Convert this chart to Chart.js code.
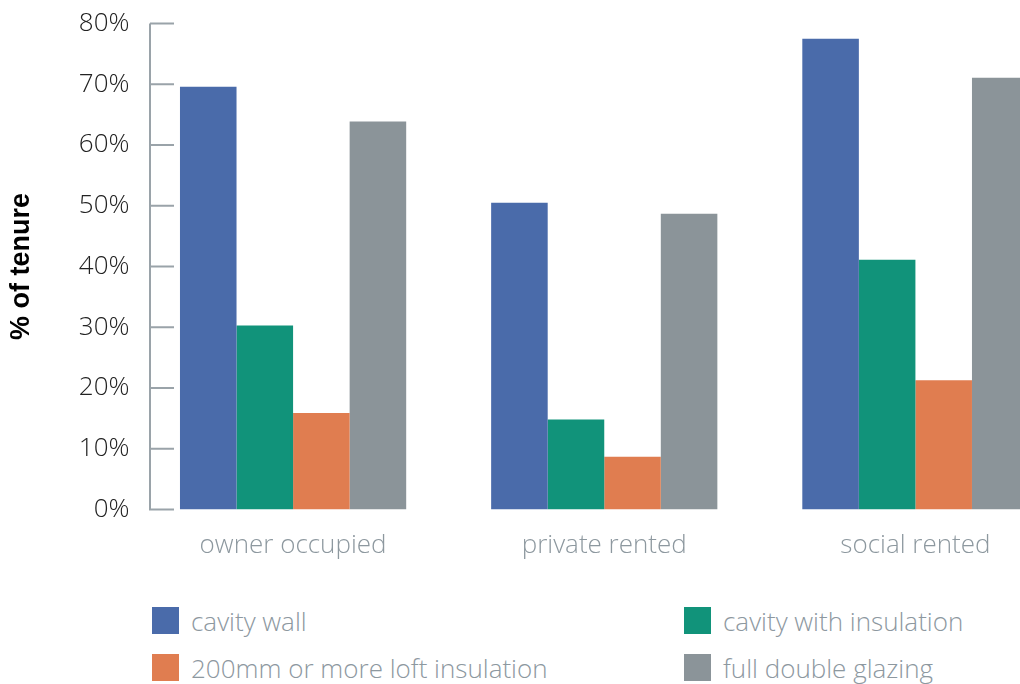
<!doctype html>
<html lang="en">
<head>
    <meta charset="UTF-8">
    <title>Insulation by tenure</title>
    <script src="https://cdn.jsdelivr.net/npm/chart.js"></script>
    <style>
        html, body { margin: 0; padding: 0; overflow: hidden; background: #fff; }
        .chart-container { position: relative; width: 1071px; height: 580px; }
        .legend { position: absolute; left: 0; top: 0; font-family: "Open Sans", sans-serif; font-weight: 300; font-size: 26px; color: #8d989f; }
        .legend .item { position: absolute; white-space: nowrap; display: flex; align-items: center; height: 27px; }
        .legend .swatch { width: 27px; height: 27px; margin-right: 12px; }
    </style>
</head>
<body>
<div class="chart-container">
    <canvas id="tenureChart"></canvas>
</div>
<div class="legend" id="legend"></div>

<script>
    const categories = ['owner occupied', 'private rented', 'social rented'];
    const seriesNames = ['cavity wall', 'cavity with insulation', '200mm or more loft insulation', 'full double glazing'];
    const cavityWall = [69.6, 50.5, 77.5];
    const cavityInsulated = [30.3, 14.8, 41.1];
    const loftInsulation = [15.9, 8.7, 21.3];
    const doubleGlazing = [63.9, 48.7, 71.1];
    const yTicks = [0, 10, 20, 30, 40, 50, 60, 70, 80];
    const colors = ['#4a6baa', '#11937a', '#e07d50', '#8b9499'];

    // axis line and inward ticks sit a little right of the chart area edge
    const axisPlugin = {
        id: 'axisLine',
        afterDraw(chart) {
            const y = chart.scales.y;
            const ctx = chart.ctx;
            const x0 = 150;
            ctx.save();
            ctx.strokeStyle = '#9aa3a9';
            ctx.lineWidth = 2;
            ctx.beginPath();
            ctx.moveTo(x0, y.getPixelForValue(yTicks[yTicks.length - 1]));
            ctx.lineTo(x0, y.getPixelForValue(0) + 1);
            yTicks.forEach(function(t) {
                const py = y.getPixelForValue(t);
                ctx.moveTo(x0, py);
                ctx.lineTo(x0 + 24, py);
            });
            ctx.stroke();
            ctx.restore();
        }
    };

    const seriesData = [cavityWall, cavityInsulated, loftInsulation, doubleGlazing];

    const ctx = document.getElementById('tenureChart').getContext('2d');
    const tenureChart = new Chart(ctx, {
        type: 'bar',
        data: {
            labels: categories,
            datasets: seriesData.map(function(d, i) {
                return {
                    label: seriesNames[i],
                    data: d,
                    backgroundColor: colors[i],
                    borderWidth: 0,
                    categoryPercentage: 0.727,
                    barPercentage: 1.0
                };
            })
        },
        options: {
            responsive: true,
            maintainAspectRatio: false,
            animation: false,
            layout: { padding: { top: 23, left: 0, right: 0, bottom: 0 } },
            scales: {
                x: {
                    grid: { display: false, drawTicks: false },
                    border: { display: false },
                    ticks: {
                        color: '#8d989f',
                        padding: 20,
                        font: { family: 'Open Sans', weight: '300', size: 26 }
                    },
                    afterFit: function(s) { s.height = 70.5; }
                },
                y: {
                    min: 0,
                    max: 80,
                    grid: { display: false, drawTicks: false },
                    border: { display: false },
                    afterBuildTicks: function(s) { s.ticks = yTicks.map(function(v) { return { value: v }; }); },
                    ticks: {
                        color: '#222',
                        padding: 8,
                        font: { family: 'Open Sans', weight: '300', size: 26 },
                        callback: function(v) { return v + '%'; }
                    },
                    title: {
                        display: true,
                        text: '% of tenure',
                        color: '#000',
                        padding: { top: 7, bottom: 0 },
                        font: { family: 'Liberation Sans', weight: 'bold', size: 27, lineHeight: 1.1 }
                    },
                    afterFit: function(s) { s.width = 137.5; }
                }
            },
            plugins: {
                legend: { display: false },
                tooltip: { enabled: false }
            }
        },
        plugins: [axisPlugin]
    });

    // legend laid out in two columns like the original
    const legendPos = [[152, 607], [684, 607], [152, 654], [684, 654]];
    const legendEl = document.getElementById('legend');
    seriesNames.forEach(function(name, i) {
        const item = document.createElement('div');
        item.className = 'item';
        item.style.left = legendPos[i][0] + 'px';
        item.style.top = legendPos[i][1] + 'px';
        item.innerHTML = '<span class="swatch" style="background:' + colors[i] + '"></span><span>' + name + '</span>';
        legendEl.appendChild(item);
    });
</script>
</body>
</html>
